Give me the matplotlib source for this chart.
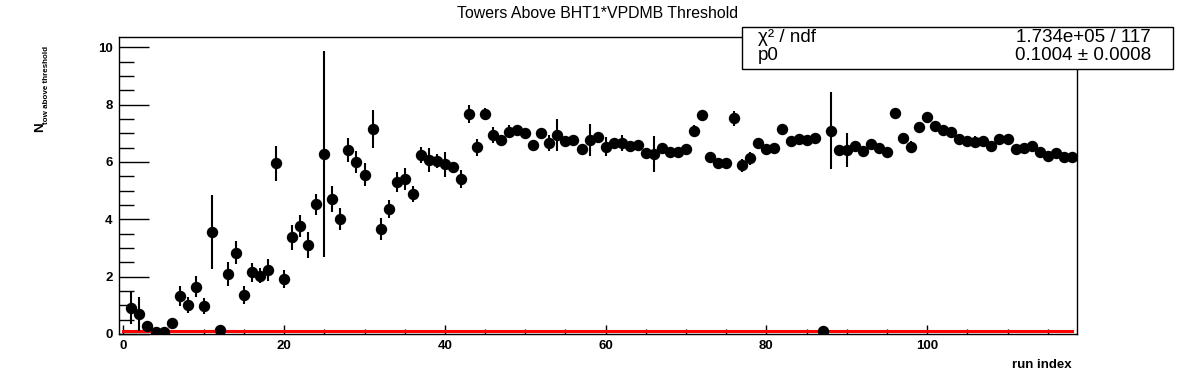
import numpy as np
import matplotlib
matplotlib.use('Agg')
import matplotlib.pyplot as plt
from matplotlib.ticker import MultipleLocator

############################# Data ############################################

# mean number of towers above BHT1*VPDMB threshold, one value per run
ntow = [0.90, 0.70, 0.28, 0.06, 0.06, 0.37, 1.33, 1.01, 1.65, 0.98,
        3.55, 0.14, 2.09, 2.84, 1.36, 2.15, 2.04, 2.23, 5.95, 1.92,
        3.37, 3.77, 3.10, 4.53, 6.27, 4.71, 4.01, 6.42, 6.00, 5.55,
        7.15, 3.66, 4.36, 5.31, 5.41, 4.88, 6.24, 6.07, 6.03, 5.92,
        5.81, 5.41, 7.67, 6.51, 7.67, 6.94, 6.77, 7.06, 7.12, 7.00,
        6.59, 7.02, 6.67, 6.94, 6.74, 6.77, 6.45, 6.77, 6.88, 6.53,
        6.67, 6.67, 6.57, 6.59, 6.30, 6.28, 6.48, 6.36, 6.36, 6.44,
        7.08, 7.64, 6.16, 5.95, 5.95, 7.52, 5.89, 6.13, 6.65, 6.45,
        6.48, 7.15, 6.73, 6.79, 6.77, 6.83, 0.10, 7.09, 6.42, 6.42,
        6.57, 6.39, 6.62, 6.50, 6.34, 7.72, 6.83, 6.53, 7.21, 7.58,
        7.25, 7.12, 7.06, 6.79, 6.73, 6.71, 6.73, 6.57, 6.80, 6.80,
        6.44, 6.48, 6.57, 6.34, 6.21, 6.32, 6.16, 6.16]

ntow_err = [0.55, 0.60, 0.08, 0.05, 0.05, 0.08, 0.35, 0.28, 0.37, 0.28,
            1.30, 0.05, 0.43, 0.40, 0.30, 0.32, 0.25, 0.37, 0.60, 0.31,
            0.43, 0.38, 0.45, 0.37, 3.60, 0.45, 0.37, 0.43, 0.40, 0.40,
            0.66, 0.38, 0.31, 0.35, 0.39, 0.28, 0.29, 0.41, 0.25, 0.44,
            0.15, 0.31, 0.32, 0.29, 0.20, 0.29, 0.12, 0.23, 0.15, 0.15,
            0.15, 0.12, 0.27, 0.55, 0.12, 0.12, 0.15, 0.56, 0.12, 0.33,
            0.12, 0.27, 0.12, 0.12, 0.12, 0.63, 0.12, 0.12, 0.12, 0.15,
            0.20, 0.15, 0.12, 0.12, 0.12, 0.26, 0.23, 0.23, 0.12, 0.12,
            0.12, 0.12, 0.12, 0.12, 0.12, 0.12, 0.05, 1.35, 0.15, 0.60,
            0.12, 0.12, 0.12, 0.12, 0.12, 0.12, 0.12, 0.20, 0.12, 0.12,
            0.12, 0.12, 0.12, 0.12, 0.12, 0.20, 0.12, 0.12, 0.12, 0.12,
            0.12, 0.12, 0.12, 0.12, 0.12, 0.12, 0.12, 0.12]

run_index = np.arange(1, len(ntow) + 1)

# pol0 fit result
fit_p0 = 0.1004
fit_p0_err = 0.0008
fit_chi2 = "1.734e+05"
fit_ndf = 117
fit_range = (0, 118)

############################# Plot parameters #################################

plt.rcParams['font.family'] = ['Liberation Sans', 'DejaVu Sans']

fig = plt.figure(figsize=(11.96, 3.72), dpi=100)
ax = fig.add_axes([0.0998, 0.1022, 0.8004, 0.7975])

# fit line under the points
ax.plot(fit_range, [fit_p0, fit_p0], color='#ff0000', linewidth=2.2, zorder=2)

ax.errorbar(run_index, ntow, yerr=ntow_err, fmt='o', color='black',
            markersize=7.2, elinewidth=1.5, capsize=0, zorder=3)

ax.set_xlim(-0.5, 118.6)
ax.set_ylim(0, 10.35)

ax.xaxis.set_major_locator(MultipleLocator(20))
ax.xaxis.set_minor_locator(MultipleLocator(5))
ax.yaxis.set_major_locator(MultipleLocator(2))
ax.yaxis.set_minor_locator(MultipleLocator(0.5))

ax.tick_params(axis='both', which='both', direction='in', top=False, right=False,
               width=1.0, labelsize=9.5)
ax.tick_params(axis='y', which='major', length=21.5, pad=5)
ax.tick_params(axis='y', which='minor', length=10.5)
ax.tick_params(axis='x', which='major', length=6.5, pad=4)
ax.tick_params(axis='x', which='minor', length=3.3)
for lab in ax.get_xticklabels() + ax.get_yticklabels():
    lab.set_fontweight('bold')

for sp in ax.spines.values():
    sp.set_linewidth(1.0)

fig.text(0.5, 0.965, "Towers Above BHT1*VPDMB Threshold", ha='center',
         va='center', fontsize=11.4)

fig.text(0.896, 0.019, "run index", ha='right', va='center',
         fontsize=9.5, fontweight='bold')

# y title: N with subscript, rotated
fig.text(40.5 / 1196, 1 - 132 / 372, "N", rotation=90, ha='center',
         va='bottom', fontsize=9.5, fontweight='bold')
fig.text(46.3 / 1196, 1 - 123.5 / 372, "tow above threshold", rotation=90,
         ha='center', va='bottom', fontsize=5.8, fontweight='bold')

# stats box
bx0, by0, bx1, by1 = 741.5 / 1196, 1 - 69.3 / 372, 1173 / 1196, 1 - 27.3 / 372
box = plt.Rectangle((bx0, by0), bx1 - bx0, by1 - by0, transform=fig.transFigure,
                    facecolor='white', edgecolor='black', linewidth=1.0,
                    zorder=5)
fig.add_artist(box)
fig.text(758 / 1196, 1 - 37 / 372, "\u03c7\u00b2 / ndf", ha='left', va='center',
         fontsize=13.5, zorder=6)
fig.text(1151 / 1196, 1 - 37 / 372, "%s / %d" % (fit_chi2, fit_ndf), ha='right',
         va='center', fontsize=13.5, zorder=6)
fig.text(758 / 1196, 1 - 56 / 372, "p0", ha='left', va='center',
         fontsize=13.5, zorder=6)
fig.text(1151 / 1196, 1 - 56 / 372, "%.4f \u00b1 %.4f" % (fit_p0, fit_p0_err),
         ha='right', va='center', fontsize=13.5, zorder=6)

plt.savefig("out.png", dpi=100)
